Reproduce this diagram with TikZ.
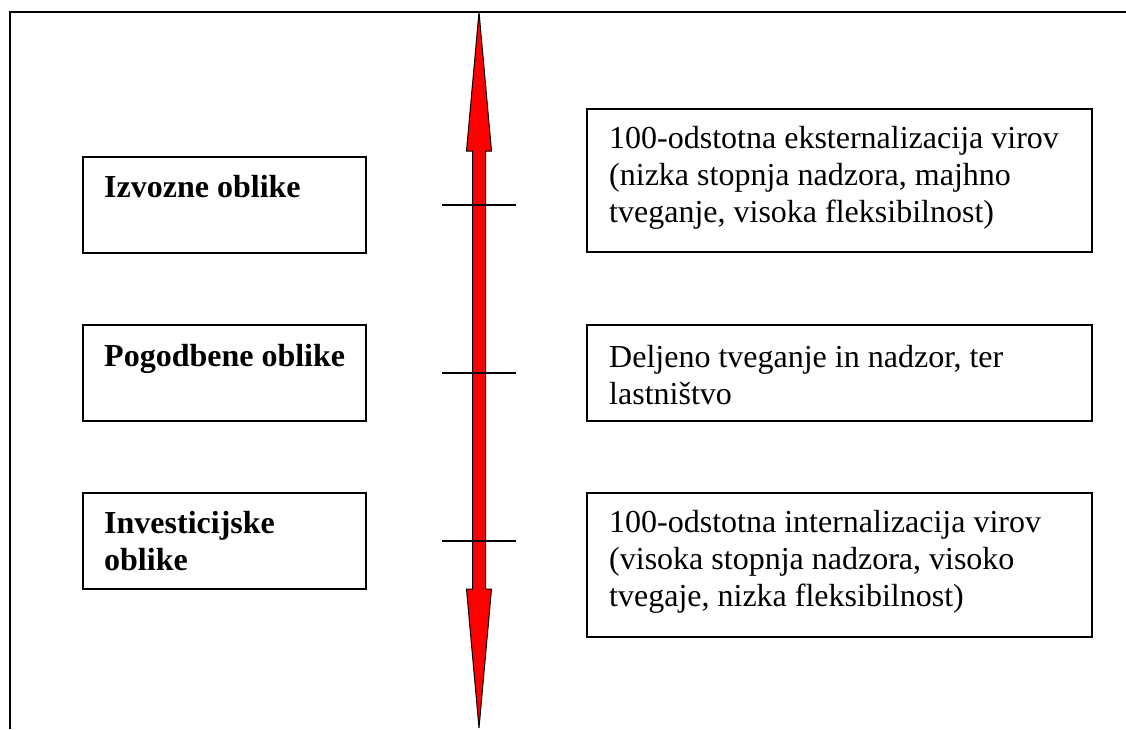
\documentclass[tikz,border=0pt]{standalone}
\usepackage{fontspec}
\setmainfont{Liberation Serif}
% top-aligned block of lines whose baseline is the first line's baseline
\newcommand{\toplines}[1]{\parbox[t]{480pt}{\raggedright #1}}
\begin{document}
\begin{tikzpicture}[x=1pt,y=-1pt,
  frameline/.style={line width=2pt},
  box/.style={draw, line width=1.3pt, rectangle, inner sep=0pt},
  txt/.style={anchor=base west, inner sep=0pt,
    font=\fontsize{32}{37}\selectfont},
  bold/.style={txt, font=\fontsize{32}{37}\selectfont\bfseries},
  tick/.style={line width=1.2pt},
  bigarrow/.style={fill=red, draw=black, line width=1pt, line join=miter}]
\useasboundingbox (0,0) rectangle (1126,729);

% outer frame: top rule and left rule
\coordinate (ftl) at (10,11.5);
\coordinate (ftr) at (1126,11.5);
\coordinate (fbl) at (10,729);
\draw[frameline] (ftr) -- (ftl) -- (fbl);

% double-headed red arrow
\draw[bigarrow] (479,12) -- (491.5,151) -- (485.7,151) -- (485.7,589)
  -- (491.5,589) -- (479,728) -- (466.5,589) -- (472.7,589)
  -- (472.7,151) -- (466.5,151) -- cycle;

% tick marks on the axis
\foreach \y/\n in {205/1,373/2,541/3}{
  \coordinate (tl\n) at (442,\y);
  \coordinate (tr\n) at (516,\y);
  \draw[tick] (tl\n) -- (tr\n);
}

% left boxes
\node[box, minimum width=283pt, minimum height=96pt] (L1) at (224.5,205) {};
\node[box, minimum width=283pt, minimum height=96pt] (L2) at (224.5,373) {};
\node[box, minimum width=283pt, minimum height=96pt] (L3) at (224.5,541) {};
\node[bold] (l1t) at (104,197) {Izvozne oblike};
\node[bold] (l2t) at (104,366) {Pogodbene oblike};
\node[bold] (l3t) at (104,533) {\toplines{Investicijske\\oblike}};

% right boxes
\node[box, minimum width=505pt, minimum height=143pt] (R1) at (839.5,180.5) {};
\node[box, minimum width=505pt, minimum height=96pt] (R2) at (839.5,373) {};
\node[box, minimum width=505pt, minimum height=144pt] (R3) at (839.5,565) {};
\node[txt] (r1t) at (609,148) {\toplines{100-odstotna eksternalizacija virov\\(nizka stopnja nadzora, majhno\\tveganje, visoka fleksibilnost)}};
\node[txt] (r2t) at (609,367) {\toplines{Deljeno tveganje in nadzor, ter\\lastništvo}};
\node[txt] (r3t) at (609,532) {\toplines{100-odstotna internalizacija virov\\(visoka stopnja nadzora, visoko\\tvegaje, nizka fleksibilnost)}};
\end{tikzpicture}
\end{document}
